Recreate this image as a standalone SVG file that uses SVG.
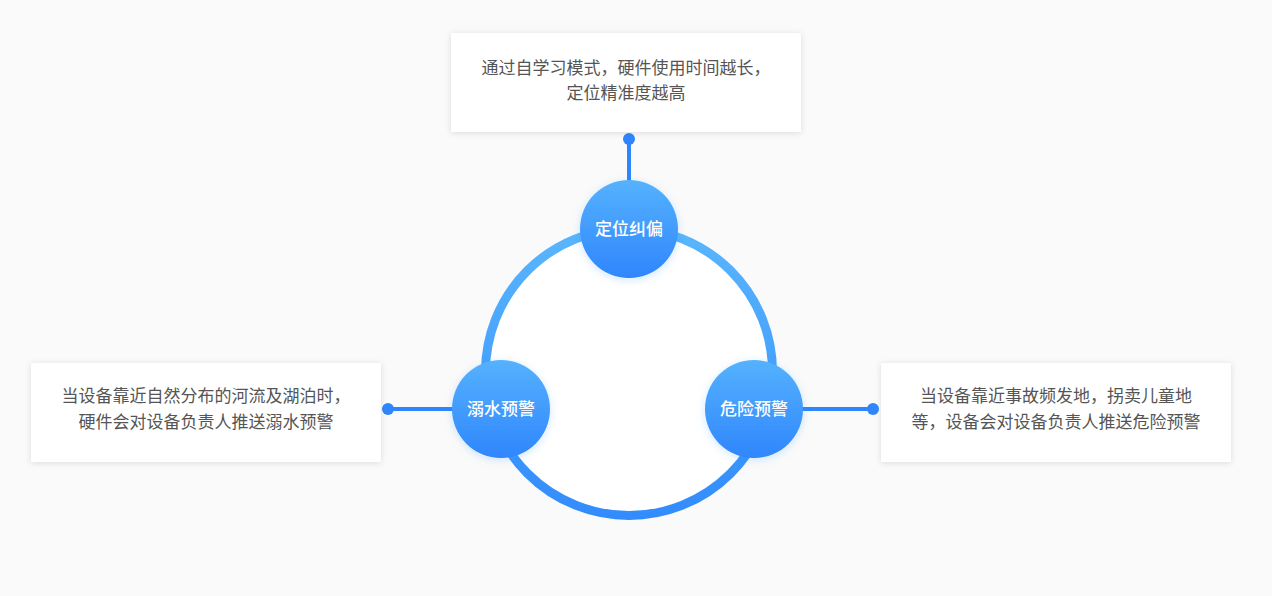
<svg xmlns="http://www.w3.org/2000/svg" width="1272" height="596" viewBox="0 0 1272 596">
<defs>
<linearGradient id="ring" x1="0" y1="0" x2="0" y2="1"><stop offset="0" stop-color="#5ab6fd"/><stop offset="1" stop-color="#328cfc"/></linearGradient>
<linearGradient id="ball" x1="0" y1="0" x2="0" y2="1"><stop offset="0" stop-color="#55b2fe"/><stop offset="1" stop-color="#2f86fc"/></linearGradient>
<filter id="sh" x="-20%" y="-20%" width="140%" height="140%"><feDropShadow dx="0" dy="1" stdDeviation="3" flood-color="#000" flood-opacity="0.12"/></filter>
<filter id="bs" x="-30%" y="-30%" width="160%" height="160%"><feDropShadow dx="0" dy="2" stdDeviation="4" flood-color="#2f86fc" flood-opacity="0.2"/></filter>
<style>
.box{fill:#fff;filter:url(#sh)}
.t{font-family:"Noto Sans CJK SC",sans-serif;font-size:17px;fill:#555;text-anchor:middle}
.n{font-family:"Noto Sans CJK SC",sans-serif;font-size:17px;fill:#fff;text-anchor:middle;font-weight:500}
.ln{stroke:#2f86fc;stroke-width:4}
.dot{fill:#2f86fc}
.ball{fill:url(#ball);filter:url(#bs)}
</style>
</defs>
<rect width="1272" height="596" fill="#fafafa"/>
<circle cx="629" cy="372" r="143.5" fill="#fff" stroke="url(#ring)" stroke-width="9"/>
<g id="connectors">
<line class="ln" x1="629" y1="139" x2="629" y2="182"/><circle class="dot" cx="629" cy="139" r="6"/>
<line class="ln" x1="388" y1="409" x2="454" y2="409"/><circle class="dot" cx="388" cy="409" r="6"/>
<line class="ln" x1="800" y1="409" x2="873" y2="409"/><circle class="dot" cx="873" cy="409" r="6"/>
</g>
<g id="box-top"><rect class="box" x="451" y="33" width="350" height="99"/>
<text class="t" x="626" y="74">通过自学习模式，硬件使用时间越长，</text><text class="t" x="626" y="99">定位精准度越高</text></g>
<g id="box-left"><rect class="box" x="31" y="363" width="350" height="99"/>
<text class="t" x="206" y="402">当设备靠近自然分布的河流及湖泊时，</text><text class="t" x="206" y="428">硬件会对设备负责人推送溺水预警</text></g>
<g id="box-right"><rect class="box" x="881" y="363" width="350" height="99"/>
<text class="t" x="1056" y="402">当设备靠近事故频发地，拐卖儿童地</text><text class="t" x="1056" y="428">等，设备会对设备负责人推送危险预警</text></g>
<g id="node-top"><circle class="ball" cx="629" cy="229" r="49"/><text class="n" x="629" y="235">定位纠偏</text></g>
<g id="node-left"><circle class="ball" cx="501" cy="409" r="49"/><text class="n" x="501" y="415">溺水预警</text></g>
<g id="node-right"><circle class="ball" cx="754" cy="409" r="49"/><text class="n" x="754" y="415">危险预警</text></g>
</svg>
